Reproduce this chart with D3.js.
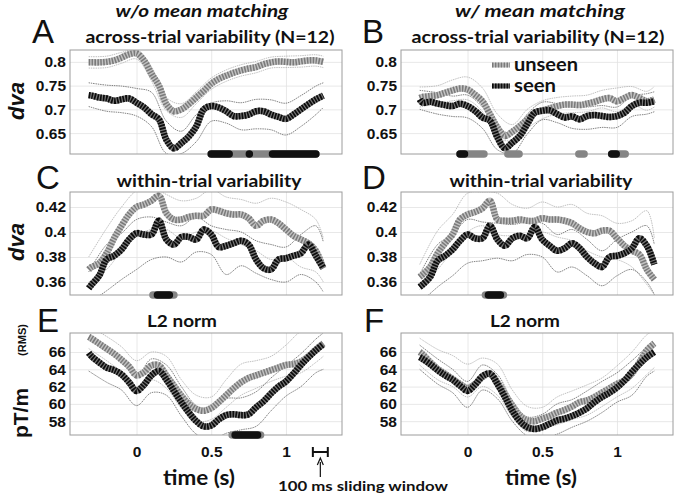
<!DOCTYPE html>
<html><head><meta charset="utf-8">
<script src="https://cdn.jsdelivr.net/npm/d3@7"></script>
<style>body{margin:0;background:#fff}svg{display:block}</style>
</head><body>
<svg id="c" width="680" height="496"></svg>
<script>
// ---------- data ----------
const times = [-0.32,-0.3,-0.25,-0.2,-0.15,-0.1,-0.05,0,0.05,0.1,0.15,0.2,0.25,0.3,0.35,0.4,0.45,0.5,0.55,0.6,0.65,0.7,0.75,0.8,0.85,0.9,0.95,1.0,1.05,1.1,1.15,1.2,1.25];
const ciTimes = [-0.32,-0.2,-0.1,0,0.1,0.2,0.3,0.4,0.5,0.6,0.7,0.8,0.9,1.0,1.1,1.2,1.25];

const unseenA = [0.799,0.799,0.799,0.80,0.803,0.809,0.816,0.818,0.803,0.775,0.75,0.711,0.696,0.70,0.711,0.725,0.739,0.754,0.764,0.771,0.777,0.782,0.786,0.789,0.795,0.799,0.801,0.80,0.799,0.801,0.803,0.803,0.80];
const seenA   = [0.73,0.729,0.725,0.723,0.718,0.721,0.723,0.714,0.704,0.69,0.679,0.636,0.618,0.629,0.643,0.664,0.70,0.707,0.704,0.696,0.686,0.686,0.689,0.696,0.696,0.689,0.684,0.68,0.689,0.70,0.711,0.721,0.729];
const unseenA_hi = [0.811,0.812,0.82,0.826,0.79,0.725,0.712,0.737,0.766,0.783,0.794,0.801,0.81,0.812,0.813,0.815,0.812];
const unseenA_lo = [0.787,0.788,0.797,0.806,0.76,0.697,0.683,0.712,0.742,0.759,0.77,0.777,0.787,0.788,0.789,0.791,0.788];
const seenA_hi = [0.756,0.751,0.749,0.744,0.736,0.675,0.654,0.689,0.713,0.718,0.714,0.721,0.72,0.713,0.729,0.749,0.756];
const seenA_lo = [0.706,0.696,0.693,0.686,0.664,0.607,0.607,0.632,0.675,0.671,0.657,0.659,0.657,0.646,0.664,0.689,0.704];

const unseenB = [0.724,0.726,0.728,0.73,0.735,0.74,0.744,0.742,0.731,0.717,0.69,0.662,0.644,0.653,0.665,0.679,0.693,0.698,0.702,0.707,0.71,0.71,0.709,0.712,0.716,0.721,0.724,0.717,0.724,0.73,0.724,0.717,0.721];
const seenB   = [0.721,0.714,0.716,0.712,0.709,0.707,0.712,0.707,0.697,0.683,0.676,0.641,0.618,0.63,0.644,0.669,0.693,0.697,0.698,0.69,0.683,0.685,0.679,0.686,0.688,0.686,0.684,0.686,0.693,0.707,0.714,0.714,0.717];
const unseenB_hi = [0.747,0.75,0.762,0.768,0.745,0.69,0.668,0.70,0.718,0.725,0.728,0.73,0.74,0.745,0.748,0.738,0.748];
const unseenB_lo = [0.705,0.712,0.718,0.72,0.695,0.64,0.635,0.66,0.68,0.69,0.693,0.695,0.703,0.695,0.71,0.698,0.705];
const seenB_hi = [0.74,0.735,0.728,0.73,0.705,0.665,0.648,0.69,0.715,0.712,0.705,0.705,0.708,0.705,0.728,0.733,0.737];
const seenB_lo = [0.70,0.69,0.685,0.682,0.66,0.615,0.607,0.648,0.678,0.672,0.66,0.658,0.662,0.662,0.685,0.69,0.695];

const unseenC = [0.37,0.372,0.375,0.383,0.395,0.405,0.414,0.42,0.422,0.425,0.429,0.415,0.41,0.41,0.412,0.413,0.413,0.418,0.417,0.415,0.414,0.414,0.411,0.405,0.409,0.41,0.407,0.402,0.397,0.394,0.391,0.385,0.371];
const seenC   = [0.355,0.358,0.365,0.378,0.381,0.386,0.394,0.399,0.398,0.398,0.409,0.394,0.39,0.396,0.396,0.394,0.402,0.398,0.388,0.389,0.391,0.393,0.39,0.378,0.371,0.37,0.378,0.379,0.381,0.383,0.39,0.381,0.371];
const unseenC_hi = [0.38,0.403,0.42,0.433,0.436,0.43,0.425,0.427,0.434,0.428,0.426,0.423,0.427,0.424,0.418,0.41,0.395];
const unseenC_lo = [0.36,0.37,0.385,0.397,0.402,0.402,0.395,0.40,0.401,0.395,0.39,0.385,0.378,0.38,0.372,0.368,0.36];
const seenC_hi = [0.368,0.39,0.399,0.41,0.412,0.408,0.405,0.412,0.405,0.402,0.40,0.393,0.39,0.388,0.398,0.405,0.392];
const seenC_lo = [0.343,0.353,0.362,0.37,0.378,0.38,0.376,0.384,0.382,0.366,0.373,0.367,0.362,0.36,0.366,0.36,0.352];

const unseenD = [0.364,0.366,0.372,0.383,0.391,0.398,0.41,0.414,0.416,0.419,0.425,0.41,0.409,0.409,0.41,0.409,0.409,0.411,0.41,0.41,0.409,0.407,0.403,0.40,0.399,0.401,0.401,0.395,0.389,0.385,0.382,0.37,0.362];
const seenD   = [0.356,0.358,0.364,0.377,0.381,0.386,0.393,0.398,0.395,0.395,0.405,0.394,0.389,0.395,0.397,0.395,0.404,0.394,0.389,0.385,0.387,0.391,0.387,0.38,0.375,0.372,0.38,0.381,0.383,0.387,0.395,0.389,0.374];
const unseenD_hi = [0.374,0.401,0.414,0.431,0.432,0.431,0.422,0.419,0.424,0.42,0.422,0.415,0.413,0.407,0.409,0.417,0.395];
const unseenD_lo = [0.354,0.37,0.385,0.40,0.405,0.398,0.397,0.398,0.40,0.396,0.393,0.385,0.38,0.378,0.372,0.358,0.35];
const seenD_hi = [0.366,0.39,0.398,0.41,0.408,0.407,0.406,0.408,0.407,0.398,0.402,0.394,0.385,0.394,0.40,0.405,0.39];
const seenD_lo = [0.343,0.356,0.365,0.375,0.377,0.379,0.377,0.382,0.38,0.368,0.372,0.365,0.357,0.365,0.37,0.36,0.35];

const unseenE = [67.75,67.55,66.97,66.39,65.8,65.1,64.33,63.3,63.67,64.45,64.45,63.28,62.12,60.95,59.98,59.4,59.2,59.5,60.2,61.0,61.8,62.5,63.0,63.3,63.6,63.9,64.2,64.5,64.6,64.9,65.5,66.3,67.0];
const seenE   = [65.9,65.5,64.8,64.2,63.9,63.4,62.5,61.5,62.2,63.3,63.8,62.8,61.5,60.2,59.0,58.0,57.4,57.5,58.2,58.7,58.8,58.7,58.8,59.6,60.3,61.2,62.0,62.6,63.5,64.5,65.4,66.2,66.9];
const unseenE_hi = [69.0,67.8,66.6,65.0,66.0,65.5,62.8,61.0,60.8,62.8,64.6,65.0,65.5,66.8,68.4,69.0,69.0];
const unseenE_lo = [66.4,65.0,63.7,62.0,62.8,61.8,59.5,58.0,58.2,59.6,61.0,61.8,62.6,63.2,63.6,64.8,65.5];
const seenE_hi = [67.6,66.0,65.2,63.2,65.2,64.5,62.0,59.8,59.3,60.6,60.7,61.4,63.0,64.4,65.8,67.5,68.2];
const seenE_lo = [63.8,62.5,61.6,59.8,61.3,61.0,58.6,56.5,55.8,56.6,57.0,57.4,59.2,60.9,62.0,63.6,64.0];

const unseenF = [66.0,65.73,64.84,64.06,63.48,62.9,62.3,61.84,62.3,63.1,63.5,62.5,61.15,59.8,58.6,58.1,58.0,58.3,58.6,59.0,59.3,59.7,60.2,60.4,60.8,61.3,61.8,62.3,62.7,63.5,64.8,66.2,67.0];
const seenF   = [65.4,65.2,64.6,63.9,63.3,62.8,62.1,61.5,62.2,63.2,63.5,62.3,60.8,59.2,58.0,57.3,57.1,57.3,57.7,58.1,58.3,58.6,59.0,59.5,60.2,60.8,61.3,61.9,62.7,63.7,64.6,65.4,66.0];
const unseenF_hi = [67.6,66.3,65.6,64.6,65.3,64.6,61.6,59.7,59.6,60.8,61.5,62.2,63.0,64.4,66.0,68.0,68.5];
const unseenF_lo = [64.5,62.8,62.0,60.8,62.0,61.0,58.5,56.8,57.2,57.6,58.2,58.7,59.7,60.8,61.8,63.4,64.2];
const seenF_hi = [66.8,65.2,64.0,62.6,64.5,63.4,60.4,58.5,58.8,60.0,60.5,61.5,62.6,63.6,65.0,66.5,66.8];
const seenF_lo = [64.0,62.3,61.3,59.6,61.6,60.6,58.0,56.3,56.0,56.5,57.3,58.0,59.0,60.2,61.0,63.2,63.8];

// significance bars: [start s, end s, shade]
const sigA = [[0.5,1.2,'g'],[0.5,0.62,'k'],[0.755,0.755,'k'],[0.91,1.2,'k']];
const sigB = [[-0.05,0.11,'g'],[-0.05,-0.02,'k'],[0.27,0.345,'g'],[0.745,0.78,'g'],[0.965,1.055,'g'],[0.965,0.995,'k']];
const sigC = [[0.11,0.25,'g'],[0.14,0.22,'k']];
const sigD = [[0.12,0.24,'g'],[0.14,0.22,'k']];
const sigE = [[0.64,0.83,'g'],[0.66,0.81,'k']];
const sigF = [];

const xTicks = [0, 0.5, 1];
const xTickLabels = ['0', '0.5', '1'];
const yTicksAB = [0.65, 0.7, 0.75, 0.8];
const yTickLabelsAB = ['0.65', '0.7', '0.75', '0.8'];
const yTicksCD = [0.36, 0.38, 0.4, 0.42];
const yTickLabelsCD = ['0.36', '0.38', '0.4', '0.42'];
const yTicksEF = [58, 60, 62, 64, 66];
const yTickLabelsEF = ['58', '60', '62', '64', '66'];

// ---------- layout ----------
const svg = d3.select('#c');
const cols = [{x0:70, x1:342}, {x0:401, x1:673}];
const rows = [
  {y0:50,  y1:154, dom:[0.606,0.825], ticks:yTicksAB, labels:yTickLabelsAB},
  {y0:192, y1:295, dom:[0.3496,0.432], ticks:yTicksCD, labels:yTickLabelsCD},
  {y0:333, y1:435, dom:[56.4,68.2], ticks:yTicksEF, labels:yTickLabelsEF}
];
const xDomain = [-0.445, 1.375];

const panels = [
  {k:'A', c:0, r:0, u:unseenA, s:seenA, uh:unseenA_hi, ul:unseenA_lo, sh:seenA_hi, sl:seenA_lo, sig:sigA},
  {k:'B', c:1, r:0, u:unseenB, s:seenB, uh:unseenB_hi, ul:unseenB_lo, sh:seenB_hi, sl:seenB_lo, sig:sigB},
  {k:'C', c:0, r:1, u:unseenC, s:seenC, uh:unseenC_hi, ul:unseenC_lo, sh:seenC_hi, sl:seenC_lo, sig:sigC},
  {k:'D', c:1, r:1, u:unseenD, s:seenD, uh:unseenD_hi, ul:unseenD_lo, sh:seenD_hi, sl:seenD_lo, sig:sigD},
  {k:'E', c:0, r:2, u:unseenE, s:seenE, uh:unseenE_hi, ul:unseenE_lo, sh:seenE_hi, sl:seenE_lo, sig:sigE},
  {k:'F', c:1, r:2, u:unseenF, s:seenF, uh:unseenF_hi, ul:unseenF_lo, sh:seenF_hi, sl:seenF_lo, sig:sigF}
];

const tickFont = "bold 15.5px 'Liberation Sans', Arial, sans-serif";
const defs = svg.append('defs');

function stripe(g, d, kind, w) {
  if (kind === 'u') {
    g.append('path').attr('d', d).attr('fill','none').attr('stroke','#c2c2c2').attr('stroke-width', w);
    g.append('path').attr('d', d).attr('fill','none').attr('stroke','#7a7a7a').attr('stroke-width', w)
      .attr('stroke-dasharray','1.5,1.4');
  } else {
    g.append('path').attr('d', d).attr('fill','none').attr('stroke','#777').attr('stroke-width', w);
    g.append('path').attr('d', d).attr('fill','none').attr('stroke','#0c0c0c').attr('stroke-width', w)
      .attr('stroke-dasharray','1.7,1.2');
  }
}

panels.forEach(p => {
  const col = cols[p.c], row = rows[p.r];
  const x = d3.scaleLinear().domain(xDomain).range([col.x0, col.x1]);
  const y = d3.scaleLinear().domain(row.dom).range([row.y1, row.y0]);
  const W = col.x1 - col.x0, H = row.y1 - row.y0;
  const g = svg.append('g');

  // grid
  g.append('g').attr('transform', `translate(0,${row.y1})`)
    .call(d3.axisBottom(x).tickValues(xTicks).tickSize(-H).tickFormat(''))
    .call(a => { a.select('.domain').remove(); a.selectAll('line').attr('stroke','#e2e2e2').attr('stroke-width',0.8); });
  g.append('g').attr('transform', `translate(${col.x0},0)`)
    .call(d3.axisLeft(y).tickValues(row.ticks).tickSize(-W).tickFormat(''))
    .call(a => { a.select('.domain').remove(); a.selectAll('line').attr('stroke','#e2e2e2').attr('stroke-width',0.8); });

  // y tick labels
  g.append('g').attr('transform', `translate(${col.x0},0)`)
    .call(d3.axisLeft(y).tickValues(row.ticks).tickSize(0).tickPadding(4).tickFormat((d,i) => row.labels[i]))
    .call(a => { a.select('.domain').remove();
      a.selectAll('text').style('font', tickFont).attr('fill','#111'); });

  // x tick labels (bottom row)
  if (p.r === 2) {
    g.append('g').attr('transform', `translate(0,${row.y1})`)
      .call(d3.axisBottom(x).tickValues(xTicks).tickSize(0).tickPadding(11).tickFormat((d,i) => xTickLabels[i]))
      .call(a => { a.select('.domain').remove();
        a.selectAll('text').style('font', tickFont).attr('fill','#111'); });
  }

  // clip
  const cid = 'clip' + p.k;
  defs.append('clipPath').attr('id', cid).append('rect')
    .attr('x', col.x0).attr('y', row.y0).attr('width', W).attr('height', H);
  const pg = g.append('g').attr('clip-path', `url(#${cid})`);

  const line = arr => d3.line().x((d,i) => x(times[i])).y(d => y(d)).curve(d3.curveCatmullRom.alpha(0.5))(arr);
  const ciLine = arr => d3.line().x((d,i) => x(ciTimes[i])).y(d => y(d)).curve(d3.curveCatmullRom.alpha(0.5))(arr);

  // confidence lines
  [[p.uh,'#a6a6a6'],[p.ul,'#a6a6a6'],[p.sh,'#505050'],[p.sl,'#505050']].forEach(([arr,c]) => {
    pg.append('path').attr('d', ciLine(arr)).attr('fill','none').attr('stroke', c)
      .attr('stroke-width', 0.7).attr('stroke-dasharray','1.5,0.8');
  });

  // means
  stripe(pg, line(p.u), 'u', 6.5);
  stripe(pg, line(p.s), 's', 6.5);

  // box
  g.append('rect').attr('x', col.x0).attr('y', row.y0).attr('width', W).attr('height', H)
    .attr('fill','none').attr('stroke','#9c9c9c').attr('stroke-width',1);

  // significance bars
  p.sig.forEach(([a,b,sh]) => {
    g.append('line').attr('x1', x(a)).attr('x2', x(b)).attr('y1', row.y1).attr('y2', row.y1)
      .attr('stroke', sh === 'k' ? '#111' : '#858585').attr('stroke-width', 7.5).attr('stroke-linecap','round');
  });

  // panel letter
  const letterPos = {A:[32,43],B:[362,43],C:[36,189],D:[362,189],E:[37,332],F:[364,332]};
  g.append('text').attr('x', letterPos[p.k][0]).attr('y', letterPos[p.k][1]).text(p.k)
    .style('font', "33px 'Liberation Sans', Arial, sans-serif").attr('fill','#111');
});

// ---------- titles ----------
const titleFont = "bold 17px Lato, 'Open Sans', sans-serif";
function ttl(txt, cx, y, w, font) {
  svg.append('text').attr('x', cx - w/2).attr('y', y).text(txt)
    .attr('textLength', w).attr('lengthAdjust','spacingAndGlyphs')
    .style('font', font || titleFont).attr('fill','#111');
}
ttl('w/o mean matching', 202, 17, 173, "italic bold 17px Lato, 'Open Sans', sans-serif");
ttl('w/ mean matching', 540, 17, 170, "italic bold 17px Lato, 'Open Sans', sans-serif");
ttl('across-trial variability (N=12)', 210, 43, 249);
ttl('across-trial variability (N=12)', 538, 43, 253);
ttl('within-trial variability', 209, 187, 185);
ttl('within-trial variability', 541, 187, 183);
ttl('L2 norm', 182, 327, 70);
ttl('L2 norm', 525, 327, 70);
ttl('time (s)', 199, 485, 72, "bold 21px Lato, 'Open Sans', sans-serif");
ttl('time (s)', 541, 485, 72, "bold 21px Lato, 'Open Sans', sans-serif");
svg.append('text').attr('x', 278).attr('y', 491).text('100 ms sliding window')
  .attr('textLength', 170).attr('lengthAdjust','spacingAndGlyphs')
  .style('font', "bold 14px Lato, 'Open Sans', sans-serif").attr('fill','#111');

// y-axis labels
function ylab(txt, cx, cy, font) {
  svg.append('text').attr('transform', `translate(${cx},${cy}) rotate(-90)`).attr('text-anchor','middle')
    .text(txt).style('font', font).attr('fill','#111');
}
ylab('dva', 24, 101, "italic bold 22px 'Liberation Sans', Arial, sans-serif");
ylab('dva', 24, 242, "italic bold 22px 'Liberation Sans', Arial, sans-serif");
ylab('pT/m', 28, 413, "bold 21px 'Liberation Sans', Arial, sans-serif");
ylab('(RMS)', 26, 340, "bold 11px 'Liberation Sans', Arial, sans-serif");

// legend (panel B)
const lgX = d3.scaleLinear().domain([0,1]).range([492, 510]);
const lg = svg.append('g');
[['unseen','u',65],['seen','s',86]].forEach(([t,k,yy]) => {
  stripe(lg, `M${lgX(0)},${yy}L${lgX(1)},${yy}`, k, 5);
  lg.append('text').attr('x', 514).attr('y', yy + 6).text(t)
    .attr('textLength', t === 'unseen' ? 64 : 42).attr('lengthAdjust','spacingAndGlyphs')
    .style('font', "bold 19px Lato, 'Open Sans', sans-serif").attr('fill','#111');
});

// sliding-window bracket and arrow (drawn on panel E time scale)
const xE = d3.scaleLinear().domain(xDomain).range([cols[0].x0, cols[0].x1]);
const b0 = xE(1.18), b1 = xE(1.28), by = 452;
const br = svg.append('g').attr('stroke','#111').attr('stroke-width',2).attr('fill','none');
br.append('line').attr('x1', b0).attr('x2', b1).attr('y1', by).attr('y2', by);
br.append('line').attr('x1', b0).attr('x2', b0).attr('y1', by-5).attr('y2', by+5);
br.append('line').attr('x1', b1).attr('x2', b1).attr('y1', by-5).attr('y2', by+5);
const ax = (b0 + b1) / 2;
svg.append('line').attr('x1', ax).attr('x2', ax).attr('y1', 462).attr('y2', 477).attr('stroke','#111').attr('stroke-width',1.2);
svg.append('path').attr('d', `M${ax-3},${465}L${ax},${458}L${ax+3},${465}`).attr('fill','none').attr('stroke','#111').attr('stroke-width',1.2);
</script>
</body></html>
